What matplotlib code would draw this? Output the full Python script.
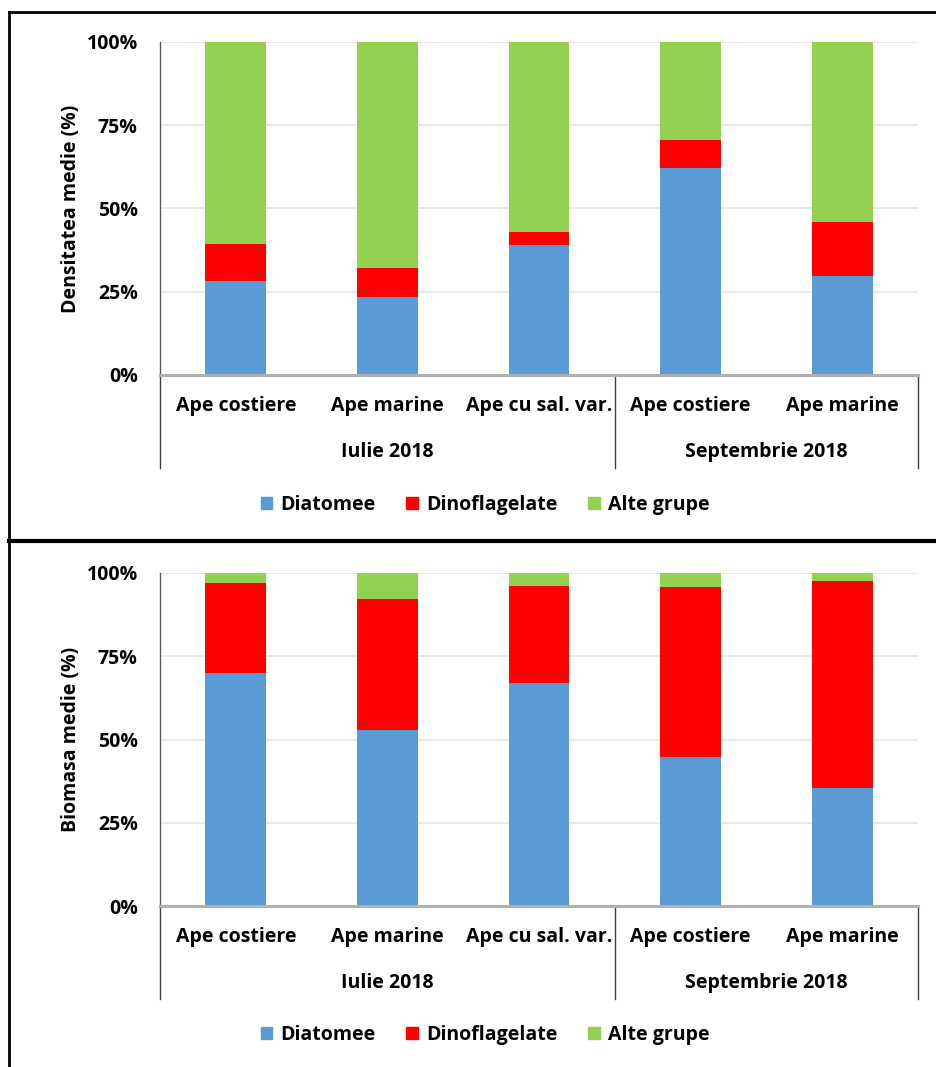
import matplotlib
matplotlib.use("Agg")
import matplotlib.pyplot as plt
from matplotlib.lines import Line2D
from matplotlib.patches import Patch
from matplotlib.ticker import FuncFormatter

plt.rcParams['font.family'] = ['Open Sans', 'DejaVu Sans']

statii = ["Ape costiere", "Ape marine", "Ape cu sal. var.",
          "Ape costiere", "Ape marine"]
campanii = ["Iulie 2018", "Septembrie 2018"]
campanie_limite = [-0.5, 2.5, 4.5]
grupe = ["Diatomee", "Dinoflagelate", "Alte grupe"]
culori = ["#5B9BD5", "#FF0000", "#92D050"]

densitate_diatomee = [28.2, 23.5, 39.0, 62.1, 29.7]
densitate_dinoflag = [11.2, 8.5, 3.8, 8.5, 16.3]
densitate_alte = [60.6, 68.0, 57.2, 29.4, 54.0]

biomasa_diatomee = [70.1, 52.9, 67.1, 44.8, 35.3]
biomasa_dinoflag = [26.8, 39.4, 28.9, 50.9, 62.4]
biomasa_alte = [3.1, 7.7, 4.0, 4.3, 2.3]

W, H = 936, 1067
fig = plt.figure(figsize=(W / 100, H / 100), dpi=100)


def px_axes(top, bottom, left=160, right=918):
    return fig.add_axes([left / W, 1 - bottom / H,
                         (right - left) / W, (bottom - top) / H])


def panel(ax, serii, ylabel, legend_y):
    x = list(range(len(statii)))
    jos = [0] * len(x)
    for valori, c in zip(serii, culori):
        ax.bar(x, valori, width=0.4, bottom=jos, color=c, zorder=3)
        jos = [a + b for a, b in zip(jos, valori)]

    ax.set_xlim(-0.5, len(x) - 0.5)
    ax.set_ylim(0, 100)
    ax.set_yticks([0, 25, 50, 75, 100])
    ax.yaxis.set_major_formatter(FuncFormatter(lambda v, p: f"{v:.0f}%"))
    ax.tick_params(axis='y', length=0, pad=16, labelsize=14)
    for t in ax.get_yticklabels():
        t.set_fontweight('bold')
    ax.set_xticks([])
    ax.grid(axis='y', color='#e4e4e4', lw=1.2, zorder=0)
    for s in ['top', 'right', 'bottom']:
        ax.spines[s].set_visible(False)
    ax.spines['left'].set_color('#595959')
    ax.spines['left'].set_linewidth(1)
    ax.axhline(0, color='#b0b0b0', lw=2.2, zorder=4, clip_on=False)
    ax.set_ylabel(ylabel, fontsize=14, fontweight='bold', labelpad=4)

    tr = ax.get_xaxis_transform()
    for i, s in enumerate(statii):
        ax.text(i, -0.093, s, transform=tr, ha='center', va='center',
                fontsize=14, fontweight='bold')
    for i, c in enumerate(campanii):
        mid = (campanie_limite[i] + campanie_limite[i + 1]) / 2
        ax.text(mid, -0.231, c, transform=tr, ha='center', va='center',
                fontsize=14, fontweight='bold')
    for xl in campanie_limite:
        ax.plot([xl, xl], [0, -0.279], transform=tr, color='#404040',
                lw=1, clip_on=False)

    handles = [Patch(color=c, label=g) for c, g in zip(culori, grupe)]
    leg = fig.legend(handles=handles, loc='center',
                     bbox_to_anchor=(485 / W, 1 - legend_y / H), ncol=3,
                     frameon=False, handlelength=0.6, handleheight=0.6,
                     handletextpad=0.4, columnspacing=1.6,
                     prop={'size': 14, 'weight': 'bold'})
    return leg


ax1 = px_axes(42, 375)
panel(ax1, [densitate_diatomee, densitate_dinoflag, densitate_alte],
      "Densitatea medie (%)", 505)

ax2 = px_axes(573, 906)
panel(ax2, [biomasa_diatomee, biomasa_dinoflag, biomasa_alte],
      "Biomasa medie (%)", 1035)

# chenarele celor doua panouri
for xs, ys, lw in [([9, W], [12, 12], 2),
                   ([9, 9], [12, H], 2),
                   ([9, W], [541, 541], 3)]:
    fig.add_artist(Line2D([v / W for v in xs], [1 - v / H for v in ys],
                          color='black', lw=lw, transform=fig.transFigure))

fig.savefig("out.png", dpi=100)
